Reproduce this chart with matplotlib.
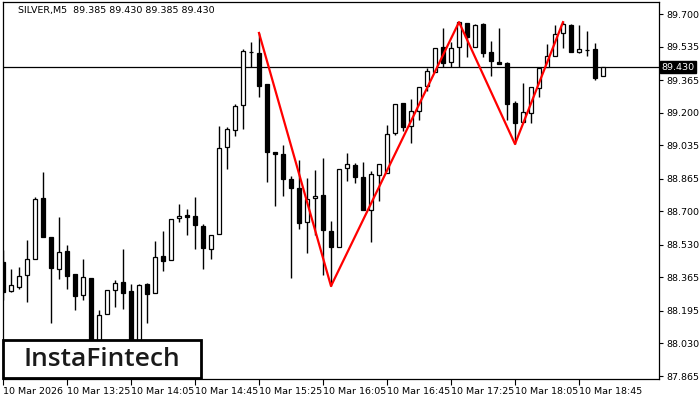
import numpy as np
import matplotlib
matplotlib.use('Agg')
import matplotlib.pyplot as plt
import matplotlib.transforms as mtransforms
from matplotlib.patches import Rectangle

# SILVER M5 candles, 10 Mar 2026 from 12:45
opens = [88.443, 88.296, 88.316, 88.377, 88.458, 88.767, 88.570, 88.408, 88.499, 88.382,
         88.276, 88.362, 87.997, 88.180, 88.301, 88.342, 88.296, 87.980, 88.332, 88.286,
         88.473, 88.453, 88.666, 88.681, 88.676, 88.626, 88.509, 88.585, 89.026, 89.112,
         89.239, 89.507, 89.502, 89.345, 89.001, 88.990, 88.864, 88.818, 88.646, 88.767,
         88.783, 88.600, 88.519, 88.919, 88.935, 88.874, 88.707, 88.884, 88.894, 89.097,
         89.249, 89.132, 89.208, 89.335, 89.406, 89.533, 89.457, 89.533, 89.654, 89.533,
         89.649, 89.507, 89.457, 89.452, 89.249, 89.153, 89.198, 89.325, 89.431, 89.487,
         89.604, 89.644, 89.507, 89.518, 89.523, 89.385]
highs = [88.504, 88.408, 88.418, 88.555, 88.772, 88.899, 88.570, 88.671, 88.529, 88.382,
         88.458, 88.362, 88.200, 88.301, 88.352, 88.509, 88.332, 88.332, 88.337, 88.550,
         88.600, 88.661, 88.737, 88.712, 88.772, 88.636, 88.580, 89.132, 89.127, 89.244,
         89.523, 89.558, 89.604, 89.345, 89.001, 89.036, 88.879, 88.960, 88.869, 88.909,
         88.970, 88.651, 88.914, 88.996, 88.945, 88.950, 88.904, 88.940, 89.137, 89.244,
         89.249, 89.269, 89.330, 89.426, 89.528, 89.629, 89.558, 89.659, 89.654, 89.649,
         89.654, 89.563, 89.629, 89.457, 89.259, 89.350, 89.330, 89.426, 89.548, 89.644,
         89.659, 89.649, 89.644, 89.614, 89.553, 89.430]
lows = [88.250, 88.291, 88.306, 88.240, 88.458, 88.570, 88.134, 88.357, 88.306, 88.200,
        88.250, 87.930, 87.970, 88.180, 88.215, 88.205, 87.930, 87.950, 88.134, 88.286,
        88.397, 88.453, 88.646, 88.580, 88.509, 88.408, 88.458, 88.585, 88.914, 89.082,
        89.117, 89.431, 89.279, 88.849, 88.727, 88.778, 88.362, 88.610, 88.489, 88.580,
        88.377, 88.321, 88.519, 88.854, 88.843, 88.707, 88.544, 88.752, 88.894, 89.087,
        89.107, 89.046, 89.163, 89.310, 89.406, 89.431, 89.431, 89.431, 89.482, 89.533,
        89.482, 89.386, 89.447, 89.163, 89.041, 89.153, 89.148, 89.279, 89.431, 89.487,
        89.528, 89.507, 89.502, 89.487, 89.365, 89.385]
closes = [88.291, 88.326, 88.372, 88.458, 88.762, 88.570, 88.413, 88.494, 88.372, 88.271,
          88.367, 87.946, 88.174, 88.301, 88.337, 88.286, 87.960, 88.326, 88.281, 88.468,
          88.448, 88.661, 88.676, 88.671, 88.631, 88.514, 88.580, 89.021, 89.117, 89.234,
          89.512, 89.507, 89.335, 89.001, 88.990, 88.864, 88.818, 88.641, 88.762, 88.778,
          88.605, 88.519, 88.914, 88.940, 88.874, 88.707, 88.889, 88.940, 89.092, 89.244,
          89.127, 89.208, 89.330, 89.411, 89.528, 89.452, 89.528, 89.659, 89.583, 89.644,
          89.502, 89.462, 89.447, 89.244, 89.148, 89.203, 89.330, 89.426, 89.487, 89.599,
          89.649, 89.507, 89.523, 89.518, 89.376, 89.430]

# zigzag (double top pattern)
zz_idx = [32, 41, 57, 64, 70]
zz_price = [89.604, 88.321, 89.659, 89.041, 89.659]

price_ticks = [89.700, 89.535, 89.365, 89.200, 89.035, 88.865, 88.700, 88.530,
               88.365, 88.195, 88.030, 87.865]
time_labels = ['10 Mar 2026', '10 Mar 13:25', '10 Mar 14:05', '10 Mar 14:45', '10 Mar 15:25',
               '10 Mar 16:05', '10 Mar 16:45', '10 Mar 17:25', '10 Mar 18:05', '10 Mar 18:45']
last_price = 89.430

fig = plt.figure(figsize=(7, 4), dpi=100)
ax = fig.add_axes([3/700, 21/400, 656/700, 377/400])

o = np.array(opens)
h = np.array(highs)
l = np.array(lows)
c = np.array(closes)
x = np.arange(len(o))

# wicks
ax.vlines(x, l, h, color='black', linewidth=1, zorder=2)

# bodies
up = c >= o
bottom = np.minimum(o, c)
height = np.maximum(np.abs(c - o), 0.0008)
ax.bar(x[up], height[up], bottom=bottom[up], width=0.6, facecolor='white',
       edgecolor='black', linewidth=0.9, zorder=3)
ax.bar(x[~up], height[~up], bottom=bottom[~up], width=0.6, facecolor='black',
       edgecolor='black', linewidth=0.9, zorder=3)

ax.axhline(last_price, color='black', linewidth=0.9, zorder=1)
ax.plot(zz_idx, zz_price, color='#ff0000', linewidth=1.6, zorder=4)

ax.set_xlim(0, 82)
ax.set_ylim(87.850, 89.761)

ax.yaxis.tick_right()
ax.set_yticks(price_ticks)
ax.set_yticklabels(['%.3f' % p for p in price_ticks])
ax.tick_params(axis='y', length=3, width=0.8, pad=2, labelsize=6.8, direction='out')

ax.set_xticks(range(0, 80, 8))
ax.set_xticklabels(time_labels)
ax.tick_params(axis='x', length=4, width=0.8, pad=2, labelsize=6.8, direction='out')
for lbl in ax.get_xticklabels():
    lbl.set_ha('left')

for s in ax.spines.values():
    s.set_linewidth(0.9)

# last price marker on the axis
trans = mtransforms.blended_transform_factory(ax.transAxes, ax.transData)
ax.text(1.004, last_price, '%.3f' % last_price, transform=trans, va='center', ha='left',
        fontsize=6.8, color='white',
        bbox=dict(facecolor='black', edgecolor='black', pad=1.2))

fig.text(18/700, 1 - 10/400, 'SILVER,M5  89.385 89.430 89.385 89.430', fontsize=6.8,
         va='center', ha='left')

# logo
fig.add_artist(Rectangle((3/700, 22/400), 198/700, 38/400, transform=fig.transFigure,
                         facecolor='white', edgecolor='black', linewidth=2, zorder=10))
fig.text(102/700, 1 - 359/400, 'InstaFintech', fontsize=19, family='Open Sans',
         fontweight='semibold', color='#1a1a1a', ha='center', va='center', zorder=11)

fig.savefig('out.png', dpi=100)
